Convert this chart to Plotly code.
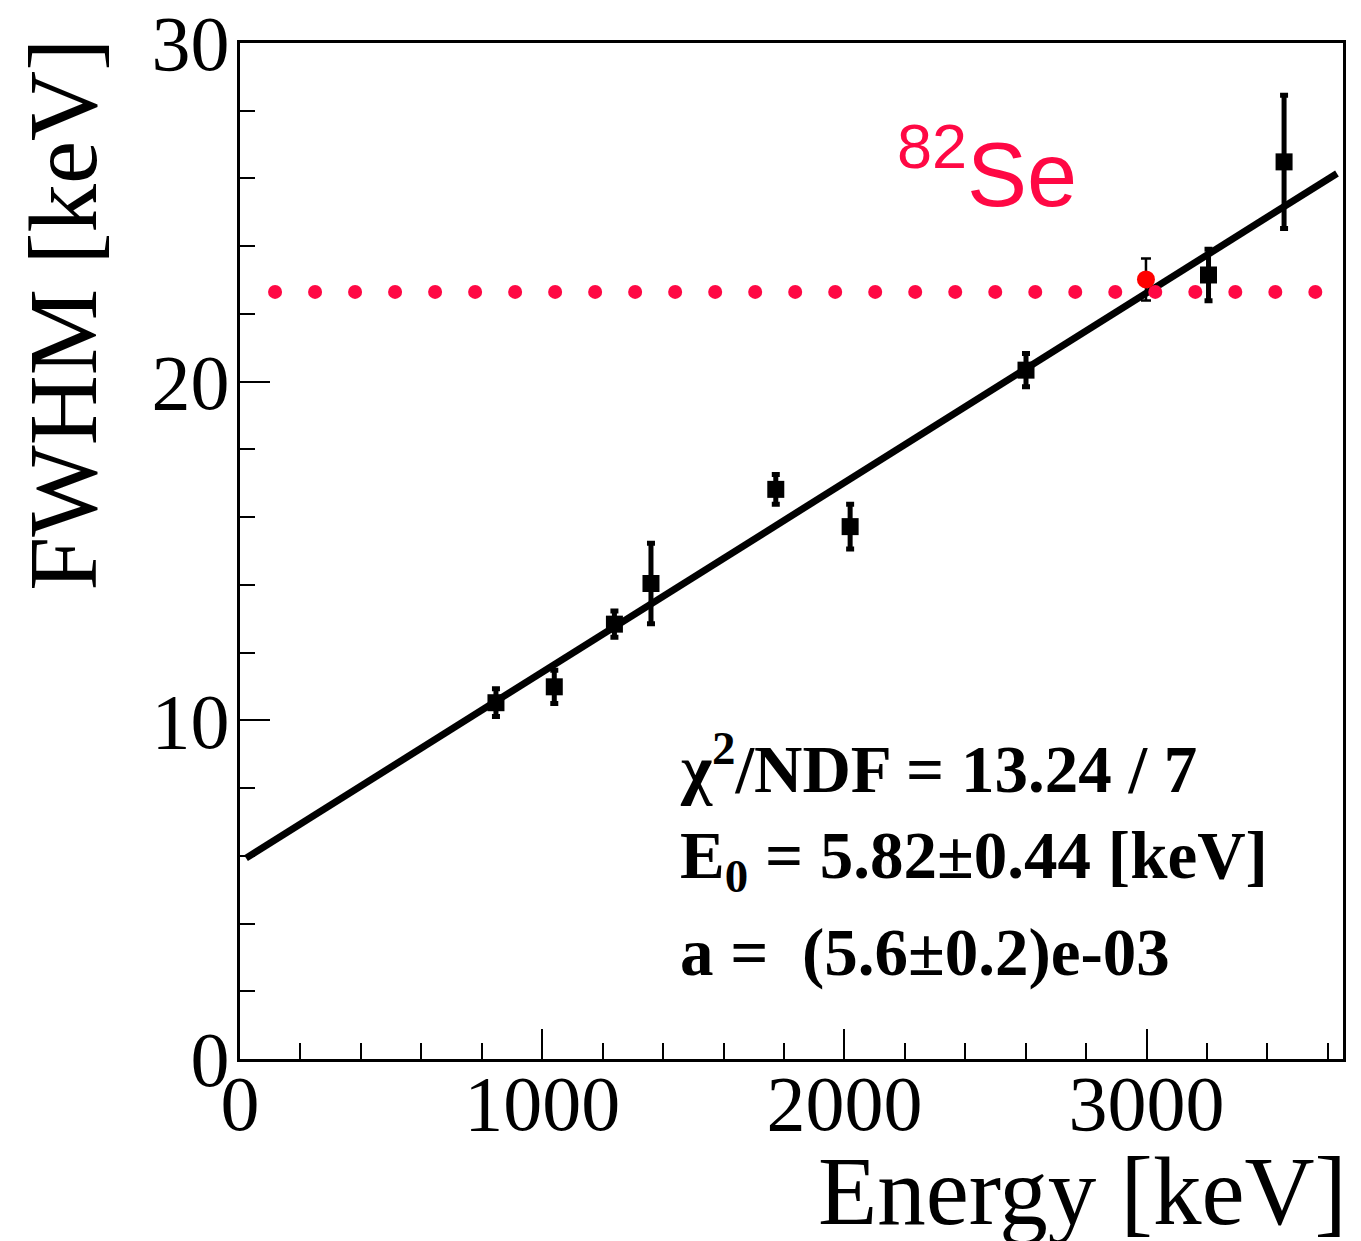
import numpy as np
import plotly.graph_objects as go

# ---- data ----
energy = [847, 1040, 1239, 1360, 1773, 2019, 2601, 3205, 3455]
fwhm = [10.52, 10.99, 12.84, 14.04, 16.82, 15.72, 20.34, 23.15, 26.49]
fwhm_err = [0.41, 0.49, 0.39, 1.19, 0.44, 0.66, 0.49, 0.76, 1.97]

se_energy = [2998]
se_fwhm = [23.02]
se_err = [0.62]

fit_E0 = 5.82
fit_a = 5.6e-3
fit_range = [20, 3630]

se_level = 22.65
se_dot_start = 116
se_dot_step = 132.4
se_dot_count = 27

x_range = [0, 3650]
y_range = [0, 30]
x_ticks = [0, 1000, 2000, 3000]
y_ticks = [0, 10, 20, 30]

stats_lines = [
    "χ<sup>2</sup>/NDF = 13.24 / 7",
    "E<sub>0</sub> = 5.82±0.44 [keV]",
    "a =  (5.6±0.2)e-03",
]

SERIF = "Liberation Serif, Times New Roman, serif"
SANS = "Liberation Sans, Arial, sans-serif"
PINK = "#ff0844"

fig = go.Figure()

fit_x = np.array(fit_range, dtype=float)
fig.add_trace(go.Scatter(x=fit_x, y=fit_E0 + fit_a * fit_x, mode="lines",
                         line=dict(color="black", width=7), hoverinfo="skip"))

dot_x = se_dot_start + se_dot_step * np.arange(se_dot_count)
fig.add_trace(go.Scatter(x=dot_x, y=[se_level] * se_dot_count, mode="markers",
                         marker=dict(symbol="circle", size=14, color=PINK,
                                     line=dict(width=0))))

fig.add_trace(go.Scatter(x=energy, y=fwhm, mode="markers",
                         marker=dict(symbol="square", size=17, color="black",
                                     line=dict(width=0)),
                         error_y=dict(type="data", array=fwhm_err, visible=True,
                                      color="black", thickness=5, width=4)))

fig.add_trace(go.Scatter(x=se_energy, y=se_fwhm, mode="markers",
                         marker=dict(symbol="circle", size=18, color="#ff0000",
                                     line=dict(width=0)),
                         error_y=dict(type="data", array=se_err, visible=True,
                                      color="black", thickness=2.5, width=5)))

axis_common = dict(
    showline=True, linecolor="black", linewidth=3, mirror=True,
    ticks="inside", tickcolor="black", tickwidth=2,
    showgrid=False, zeroline=False, automargin=False,
    ticklabeloverflow="allow",
    tickfont=dict(family=SERIF, size=78, color="black"),
)

fig.update_xaxes(range=x_range, tickvals=x_ticks, ticklen=30,
                 minor=dict(dtick=200, ticklen=16, tickcolor="black",
                            tickwidth=2, ticks="inside", showgrid=False),
                 ticklabelstandoff=-26,
                 **axis_common)
fig.update_yaxes(range=y_range, tickvals=y_ticks, ticklen=30,
                 minor=dict(dtick=2, ticklen=15, tickcolor="black",
                            tickwidth=2, ticks="inside", showgrid=False),
                 ticklabelstandoff=-8,
                 **axis_common)

annotations = [
    dict(text="FWHM [keV]", xref="paper", yref="paper", x=-0.16, y=0.732,
         xanchor="center", yanchor="middle", textangle=-90, showarrow=False,
         font=dict(family=SERIF, size=97, color="black")),
    dict(text="Energy [keV]", xref="paper", yref="paper", x=1.005, y=-0.130,
         xanchor="right", yanchor="middle", showarrow=False,
         font=dict(family=SERIF, size=97, color="black")),
    dict(text="<sup>82</sup>Se", xref="paper", yref="paper", x=0.594, y=0.877,
         xanchor="left", yanchor="middle", showarrow=False,
         font=dict(family=SANS, size=90, color=PINK)),
]
stats_y = [0.29, 0.196, 0.105]
for line, yy in zip(stats_lines, stats_y):
    annotations.append(dict(text="<b>" + line + "</b>", xref="paper", yref="paper",
                            x=(678 - 240) / 1103, y=yy, xanchor="left",
                            yanchor="middle", showarrow=False,
                            font=dict(family=SERIF, size=67, color="black")))

fig.update_layout(
    width=1353, height=1233,
    margin=dict(l=232, r=18, t=35, b=182),
    paper_bgcolor="white", plot_bgcolor="white",
    showlegend=False,
    annotations=annotations,
    shapes=[dict(type="line", xref="paper", yref="paper",
                 x0=-0.2135, x1=-0.2135, y0=0.004, y1=0.948,
                 line=dict(color="#e6e6e6", width=2))],
)

fig.write_html("out.html")
